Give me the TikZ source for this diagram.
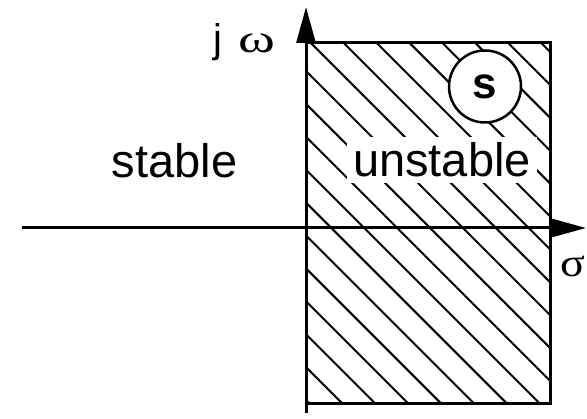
\documentclass[tikz,border=0pt]{standalone}
\usepackage{fontspec}
\usepackage{graphicx}
\setmainfont{Liberation Sans}
\newfontfamily\greekfont{Liberation Serif}
\usetikzlibrary{arrows.meta,positioning}

\newcommand{\widegreek}[2][1.4]{\scalebox{#1}[1]{\greekfont #2}}

\tikzset{
    axis/.style={line width=3pt, -{Triangle[length=36pt,width=19pt]}},
    hatchline/.style={line width=2pt},
    label/.style={inner sep=0pt, font=\fontsize{47}{56}\selectfont},
    greeklabel/.style={inner sep=0pt, font=\fontsize{40}{48}\selectfont},
    splane/.style={draw, circle, line width=2.5pt, fill=white, minimum size=72pt, inner sep=0pt,
        font=\fontsize{44}{52}\selectfont\bfseries}
}

\begin{document}
\begin{tikzpicture}[x=1pt, y=-1pt]
    \useasboundingbox (0,0) rectangle (587,419);

    % corners of the unstable half plane
    \coordinate (rectnw) at (306,43);
    \coordinate (rectse) at (550,404);

    % hatching of the right half plane
    \begin{scope}
        \clip (rectnw) rectangle (rectse);
        \foreach \k in {0,...,18} {
            \pgfmathsetmacro{\c}{-94+32.9*\k}
            \draw[hatchline] (250,250-\c) -- (620,620-\c);
        }
    \end{scope}
    \draw[line width=3pt] (rectnw) rectangle (rectse);

    % axes
    \coordinate (xstart) at (22,228);
    \coordinate (xend) at (586,228);
    \coordinate (ybottom) at (306,413);
    \coordinate (ytop) at (306,7);
    \draw[axis] (xstart) -- (xend);
    \draw[axis] (ybottom) -- (ytop);

    % labels
    \node[label, anchor=base] (stable) at (174.5,178) {stable};
    \node[label, anchor=base, fill=white, inner xsep=6pt, inner ysep=6pt] (unstable) at (442,177) {unstable};
    \node[splane] (s) at (485,86.5) {s};
    \node[greeklabel, anchor=base west] (jomega) at (213,53) {j\hspace{16pt}\widegreek{ω}};
    \node[greeklabel, anchor=base west] (sigma) at (560,277) {\widegreek[1.15]{σ}};
\end{tikzpicture}
\end{document}
